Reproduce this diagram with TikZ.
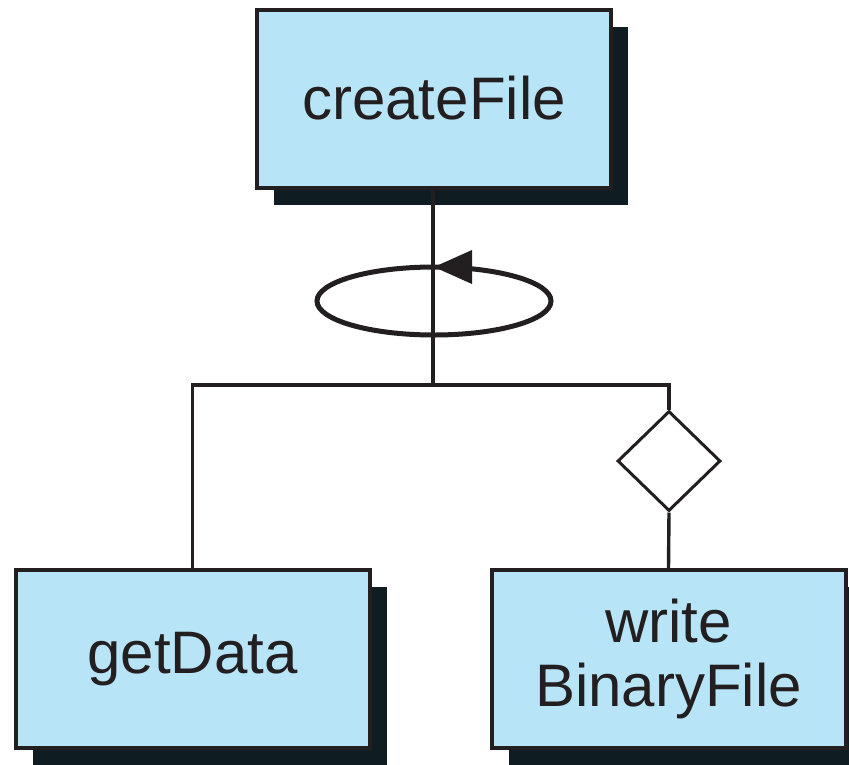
\documentclass[tikz,border=0pt]{standalone}
\usepackage{fontspec}
\setmainfont{Liberation Sans}
\usetikzlibrary{shapes.geometric,shadows}
\definecolor{boxfill}{HTML}{B8E4F8}
\definecolor{boxshade}{HTML}{0F1C22}
\definecolor{ink}{HTML}{231F20}
\tikzset{
  modbox/.style={draw=ink, line width=4pt, fill=boxfill, text=ink,
    inner sep=0pt, minimum width=354pt, minimum height=178pt,
    align=center, font=\fontsize{60}{64}\selectfont,
    drop shadow={shadow xshift=17pt, shadow yshift=-17pt, fill=boxshade, opacity=1}},
  link/.style={draw=ink, line width=3.4pt},
  choice/.style={diamond, draw=ink, line width=3pt, fill=white,
    inner sep=0pt, minimum width=103pt, minimum height=100pt}
}
\begin{document}
\begin{tikzpicture}[x=1pt,y=-1pt]
  \useasboundingbox (0,0) rectangle (849,764);
  % modules
  \node[modbox] (create) at (434,98.5) {createFile};
  \node[modbox] (getdata) at (192.5,659) {getData};
  \node[modbox] (writebin) at (668.5,659) {write\\BinaryFile};
  % conditional call marker
  \node[choice] (cond) at (669,461) {};
  % branching point below the loop
  \coordinate (fork) at (433,385);
  \draw[link] (create.south -| fork) -- (fork);
  \draw[link] (getdata.north) |- (fork) -| (cond.north);
  \draw[link] (cond.south) -- (writebin.north);
  % repetition loop
  \coordinate (loopc) at (434,301);
  \draw[draw=ink, line width=5pt] (loopc) ellipse [x radius=117pt, y radius=34pt];
  \fill[ink] (434,267) -- (472,250) -- (472,284) -- cycle;
\end{tikzpicture}
\end{document}
